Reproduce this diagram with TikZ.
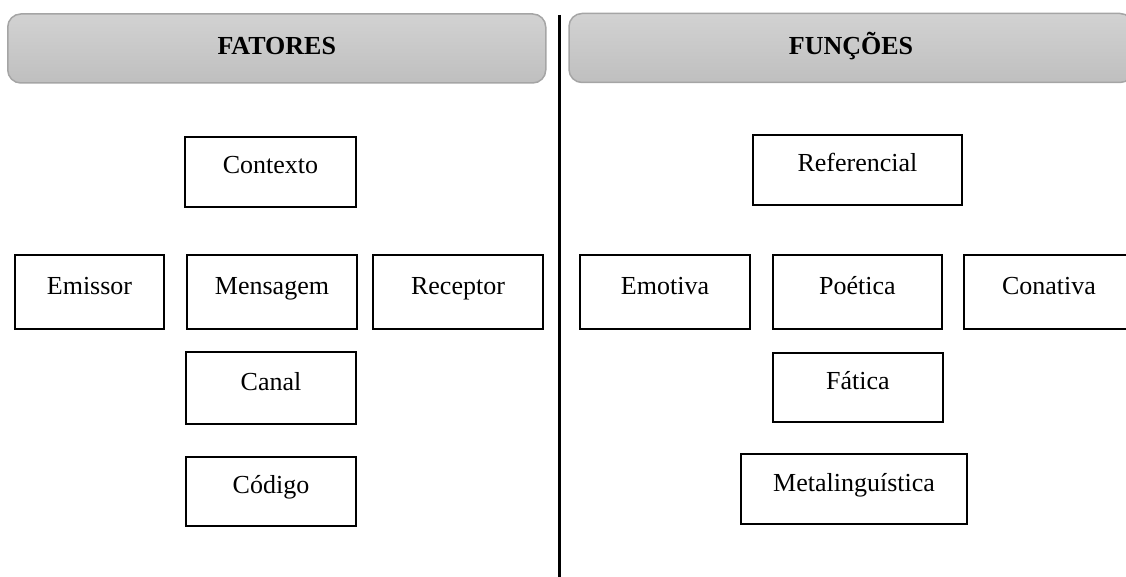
\documentclass[tikz,border=0pt]{standalone}
\usepackage{fontspec}
\setmainfont{Liberation Serif}
\definecolor{hdtop}{RGB}{210,210,210}
\definecolor{hdbot}{RGB}{191,191,191}
\definecolor{hdline}{RGB}{165,165,165}
\tikzset{
  itembox/.style={draw=black, line width=2pt, rectangle, inner sep=0pt,
    minimum width=170pt, minimum height=70pt,
    text height=20pt, text depth=16pt,
    font=\fontsize{26}{30}\selectfont},
  headbox/.style={draw=hdline, line width=1.5pt, rounded corners=13pt,
    top color=hdtop, bottom color=hdbot, inner sep=0pt,
    minimum height=69pt, text height=18pt, text depth=5.5pt,
    font=\fontsize{26}{30}\selectfont\bfseries},
  divider/.style={line width=3.5pt, black}
}
\begin{document}
\begin{tikzpicture}[x=1pt,y=-1pt]
\useasboundingbox (0,0) rectangle (1126,577);
\clip (0,0) rectangle (1126,577);
% headers
\node[headbox, minimum width=538pt] (hfat) at (276.75,48.5) {FATORES};
\node[headbox, minimum width=564pt] (hfun) at (851,48) {FUNÇÕES};
% divider
\coordinate (dtop) at (559.25,15);
\coordinate (dbot) at (559.25,577);
\draw[divider] (dtop) -- (dbot);
% fatores
\node[itembox, minimum width=171pt] (contexto) at (270.5,172) {Contexto};
\node[itembox, minimum width=149pt, minimum height=74pt] (emissor) at (89.5,292) {Emissor};
\node[itembox, minimum height=74pt] (mensagem) at (272,292) {Mensagem};
\node[itembox, minimum height=74pt] (receptor) at (458,292) {Receptor};
\node[itembox, minimum height=72pt] (canal) at (271,388) {Canal};
\node[itembox, minimum height=69pt] (codigo) at (271,491.5) {Código};
% funcoes
\node[itembox, minimum width=209pt] (referencial) at (857.5,170) {Referencial};
\node[itembox, minimum height=74pt] (emotiva) at (665,292) {Emotiva};
\node[itembox, minimum width=169pt, minimum height=74pt] (poetica) at (857.5,292) {Poética};
\node[itembox, minimum height=74pt] (conativa) at (1049,292) {Conativa};
\node[itembox, minimum height=69pt] (fatica) at (858,387.5) {Fática};
\node[itembox, minimum width=226pt] (meta) at (854,489) {Metalinguística};
\end{tikzpicture}
\end{document}
